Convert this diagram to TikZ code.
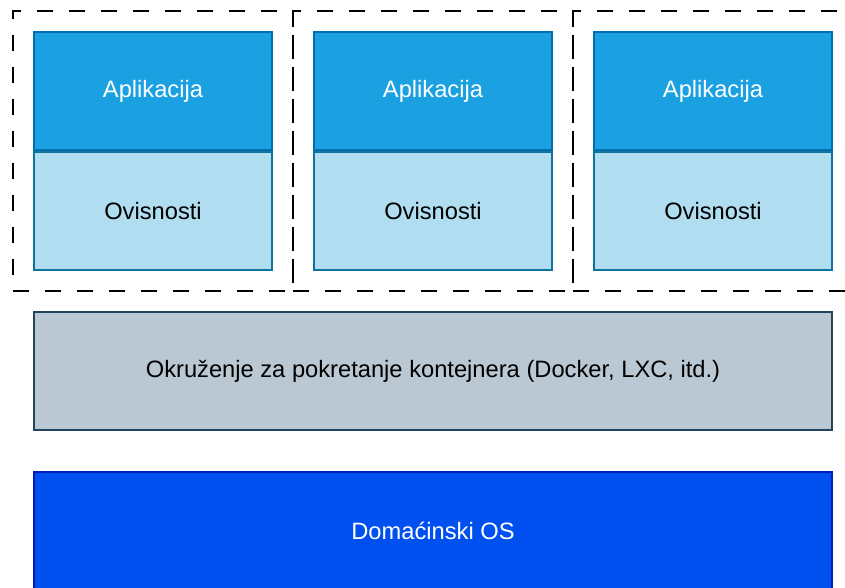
\documentclass[tikz,border=0pt]{standalone}
\usepackage{fontspec}
\setmainfont{Liberation Sans}
\definecolor{appfill}{HTML}{1BA1E2}
\definecolor{appline}{HTML}{006EAF}
\definecolor{depfill}{HTML}{B1DDF0}
\definecolor{depline}{HTML}{10739E}
\definecolor{rtfill}{HTML}{BAC8D3}
\definecolor{rtline}{HTML}{23445D}
\definecolor{osfill}{HTML}{0050EF}
\definecolor{osline}{HTML}{001DBC}
\begin{document}
\begin{tikzpicture}[x=1pt,y=-1pt,
  lay/.style={draw, line width=2pt, minimum width=238pt, minimum height=118pt, inner sep=0pt, font=\fontsize{23.7}{28}\selectfont},
  app/.style={lay, fill=appfill, draw=appline, text=white},
  dep/.style={lay, fill=depfill, draw=depline, text=black},
  rt/.style={lay, fill=rtfill, draw=rtline, minimum width=798pt, text=black},
  os/.style={lay, fill=osfill, draw=osline, minimum width=798pt, text=white},
  cont/.style={draw=black, line width=2pt, dash pattern=on 16pt off 16pt, minimum width=280pt, minimum height=280pt, inner sep=0pt}]
\useasboundingbox (0,0) rectangle (845,587);
\clip (0,0) rectangle (845,587);
\node[cont] (c1) at (153,151) {};
\node[cont] (c2) at (433,151) {};
\node[cont] (c3) at (713,151) {};
\node[app] (a1) at (153,91) {Aplikacija};
\node[dep] (d1) at (153,211) {Ovisnosti};
\node[app] (a2) at (433,91) {Aplikacija};
\node[dep] (d2) at (433,211) {Ovisnosti};
\node[app] (a3) at (713,91) {Aplikacija};
\node[dep] (d3) at (713,211) {Ovisnosti};
\node[rt] (rt) at (433,371) {Okruženje za pokretanje kontejnera (Docker, LXC, itd.)};
\node[os] (os) at (433,531) {Domaćinski OS};
\end{tikzpicture}
\end{document}
